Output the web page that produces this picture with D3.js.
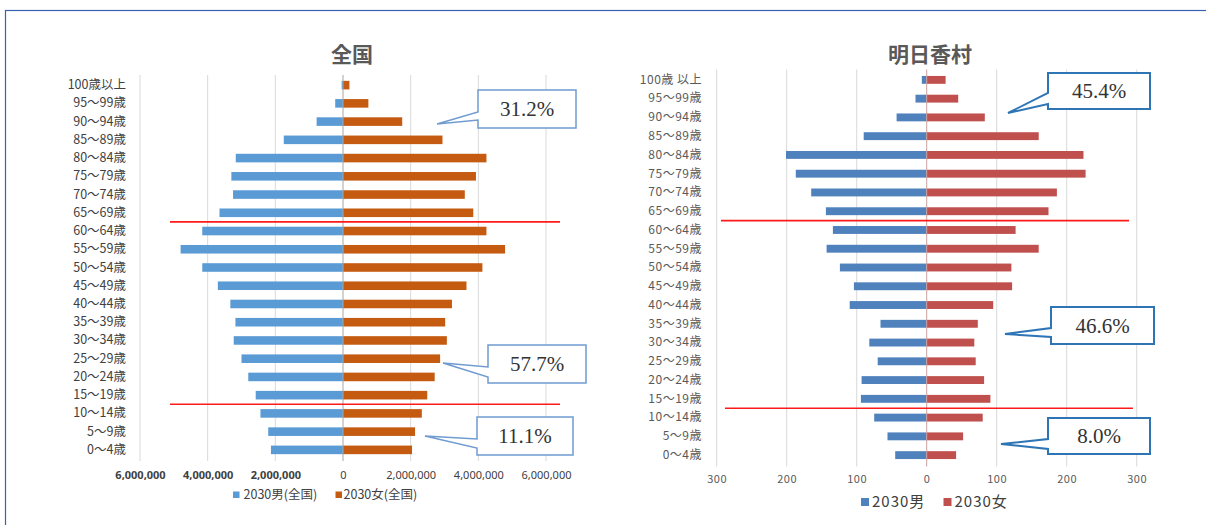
<!DOCTYPE html>
<html>
<head>
<meta charset="utf-8">
<script src="https://cdn.jsdelivr.net/npm/d3@7"></script>
<style>
  body { margin: 0; background: #fff; }
  svg { display: block; font-family: "Noto Sans CJK JP", "Noto Sans", sans-serif; }
</style>
</head>
<body>
<svg id="chart" width="1206" height="525"></svg>
<script>
// Age groups, youngest first
const agesJapan = ["0～4歳","5～9歳","10～14歳","15～19歳","20～24歳","25～29歳","30～34歳",
  "35～39歳","40～44歳","45～49歳","50～54歳","55～59歳","60～64歳","65～69歳","70～74歳",
  "75～79歳","80～84歳","85～89歳","90～94歳","95～99歳","100歳以上"];
const agesAsuka = ["0～4歳","5～9歳","10～14歳","15～19歳","20～24歳","25～29歳","30～34歳",
  "35～39歳","40～44歳","45～49歳","50～54歳","55～59歳","60～64歳","65～69歳","70～74歳",
  "75～79歳","80～84歳","85～89歳","90～94歳","95～99歳","100歳 以上"];

// 2030 projected population, nationwide (persons)
const japanMale = [2130000,2210000,2440000,2580000,2800000,3000000,3230000,3180000,3330000,3700000,
  4160000,4800000,4160000,3650000,3250000,3300000,3170000,1750000,780000,230000,40000];
const japanFemale = [2040000,2130000,2330000,2490000,2710000,2870000,3070000,3020000,3220000,3650000,
  4120000,4790000,4240000,3850000,3600000,3930000,4240000,2940000,1750000,750000,190000];

// 2030 projected population, Asuka village (persons)
const asukaMale = [45,56,75,94,93,70,82,66,110,104,124,143,134,144,165,187,201,90,43,16,7];
const asukaFemale = [42,52,80,91,82,70,68,73,95,122,121,160,127,174,186,227,224,160,83,45,27];

const japanTicks = [-6000000,-4000000,-2000000,0,2000000,4000000,6000000];
const asukaTicks = [-300,-200,-100,0,100,200,300];

// Shares of the 65+, 15–64 and 0–14 groups
const japanShares = ["31.2%","57.7%","11.1%"];
const asukaShares = ["45.4%","46.6%","8.0%"];

const svg = d3.select("#chart");

// outer frame
svg.append("rect")
  .attr("x", 5.5).attr("y", 10.5).attr("width", 1230).attr("height", 530)
  .attr("fill", "none").attr("stroke", "#3a5fad").attr("stroke-width", 1.2);

function pyramid(o) {
  const g = svg.append("g");
  const x = d3.scaleLinear().domain(o.domain).range(o.xRange);
  const y = d3.scaleBand().domain(o.ages.slice().reverse()).range(o.yRange);
  const bh = y.step() * o.barRatio;
  const off = (y.step() - bh) / 2;

  // vertical gridlines
  g.selectAll("line.grid").data(o.ticks.filter(t => t !== 0)).join("line")
    .attr("class", "grid")
    .attr("x1", d => x(d)).attr("x2", d => x(d))
    .attr("y1", o.yRange[0] - 1).attr("y2", o.yRange[1] + 2)
    .attr("stroke", "#d9d9d9").attr("stroke-width", 1);

  // male bars (left)
  g.selectAll("rect.male").data(o.male).join("rect")
    .attr("class", "male")
    .attr("x", d => x(-d)).attr("width", d => x(0) - x(-d))
    .attr("y", (d, i) => y(o.ages[i]) + off).attr("height", bh)
    .attr("fill", o.maleColor);

  // female bars (right)
  g.selectAll("rect.female").data(o.female).join("rect")
    .attr("class", "female")
    .attr("x", x(0)).attr("width", d => x(d) - x(0))
    .attr("y", (d, i) => y(o.ages[i]) + off).attr("height", bh)
    .attr("fill", o.femaleColor);

  // centre axis
  g.append("line")
    .attr("x1", x(0)).attr("x2", x(0))
    .attr("y1", o.yRange[0] - 1).attr("y2", o.yRange[1] + 2)
    .attr("stroke", o.zeroColor).attr("stroke-width", 1);

  // value axis labels
  const xa = g.append("g")
    .attr("transform", `translate(0,${o.tickY})`)
    .call(d3.axisBottom(x).tickValues(o.ticks).tickSize(0).tickPadding(0)
      .tickFormat(d => d3.format(",")(Math.abs(d))));
  xa.select(".domain").remove();
  xa.selectAll("text")
    .attr("dy", 0)
    .attr("font-family", o.tickFont)
    .attr("font-size", o.tickSize)
    .attr("letter-spacing", o.tickSpacing)
    .attr("font-weight", d => (o.boldNegative && d < 0) ? "bold" : "normal")
    .attr("fill", o.tickColor);

  // age labels
  const ya = g.append("g")
    .attr("transform", `translate(${o.labelX},0)`)
    .call(d3.axisLeft(y).tickSize(0).tickPadding(0));
  ya.select(".domain").remove();
  ya.selectAll("text")
    .attr("font-family", "'Noto Sans CJK JP', sans-serif")
    .attr("font-size", o.labelSize)
    .attr("letter-spacing", o.labelSpacing)
    .attr("fill", o.labelColor);

  // red dividers: 65+ / 15–64 / 0–14
  o.dividers.forEach((dv, i) => {
    g.append("line")
      .attr("x1", dv.x1).attr("x2", dv.x2)
      .attr("y1", y(dv.below)).attr("y2", y(dv.below))
      .attr("stroke", "#ff1a1a").attr("stroke-width", 1.6);
  });

  // title
  g.append("text")
    .attr("x", o.titleX).attr("y", 62)
    .attr("text-anchor", "middle")
    .attr("font-size", 21).attr("font-weight", "bold")
    .attr("fill", "#595959")
    .text(o.title);

  // legend
  o.legend.forEach(l => {
    g.append("rect").attr("x", l.x).attr("y", l.y - l.sq + 1).attr("width", l.sq).attr("height", l.sq)
      .attr("fill", l.color);
    g.append("text").attr("x", l.x + l.sq + l.gap).attr("y", l.y + 2)
      .attr("font-size", l.size).attr("letter-spacing", l.spacing)
      .attr("fill", "#404040").text(l.text);
  });

  // callouts
  o.callouts.forEach(c => {
    const [bx, by, bw, bh2] = c.box;
    const p = `M${bx},${by} H${bx + bw} V${by + bh2} H${bx} V${c.base[1]} L${c.tip[0]},${c.tip[1]} L${bx},${c.base[0]} Z`;
    g.append("path").attr("d", p)
      .attr("fill", "#fff").attr("stroke", o.calloutStroke).attr("stroke-width", o.calloutWidth)
      .attr("stroke-linejoin", "miter");
    g.append("text")
      .attr("x", bx + bw / 2).attr("y", by + bh2 / 2 + 7)
      .attr("text-anchor", "middle")
      .attr("font-family", "'Liberation Serif', 'DejaVu Serif', serif")
      .attr("font-size", 21).attr("fill", "#333")
      .text(c.text);
  });
}

pyramid({
  title: "全国", titleX: 352,
  ages: agesJapan, male: japanMale, female: japanFemale,
  domain: [-6000000, 6000000], xRange: [140, 546], yRange: [76, 459], barRatio: 0.47,
  ticks: japanTicks, tickY: 479, tickSize: 11, tickSpacing: 0, tickColor: "#404040",
  tickFont: "'Noto Sans', sans-serif", boldNegative: true,
  labelX: 126, labelSize: 12.5, labelSpacing: 0, labelColor: "#404040",
  maleColor: "#5b9bd5", femaleColor: "#c55a11", zeroColor: "#a6a6a6",
  dividers: [{below: "60～64歳", x1: 170, x2: 560}, {below: "10～14歳", x1: 170, x2: 560}],
  legend: [
    {x: 233, y: 497, sq: 6.5, gap: 4, size: 12.5, spacing: 0, color: "#5b9bd5", text: "2030男(全国)"},
    {x: 335.5, y: 497, sq: 6.5, gap: 1.5, size: 12.5, spacing: 0, color: "#c55a11", text: "2030女(全国)"}
  ],
  calloutStroke: "#6f9bd1", calloutWidth: 1.5,
  callouts: [
    {text: japanShares[0], box: [478, 90, 98, 38], tip: [437, 124], base: [112, 120]},
    {text: japanShares[1], box: [488, 345, 98, 38], tip: [443, 363], base: [367, 377]},
    {text: japanShares[2], box: [477, 417, 96, 38], tip: [425, 436], base: [439, 448]}
  ]
});

pyramid({
  title: "明日香村", titleX: 930,
  ages: agesAsuka, male: asukaMale, female: asukaFemale,
  domain: [-300, 300], xRange: [716.7, 1136.7], yRange: [70.5, 464.5], barRatio: 0.42,
  ticks: asukaTicks, tickY: 483, tickSize: 11, tickSpacing: 0.6, tickColor: "#595959",
  tickFont: "'Noto Sans CJK JP', sans-serif", boldNegative: false,
  labelX: 702, labelSize: 12, labelSpacing: 0.5, labelColor: "#595959",
  maleColor: "#4f81bd", femaleColor: "#c0504d", zeroColor: "#c9a0a0",
  dividers: [{below: "60～64歳", x1: 721, x2: 1129}, {below: "10～14歳", x1: 725, x2: 1133}],
  legend: [
    {x: 861, y: 505, sq: 8, gap: 3, size: 15, spacing: 1, color: "#4f81bd", text: "2030男"},
    {x: 943.5, y: 505, sq: 8, gap: 3, size: 15, spacing: 1, color: "#c0504d", text: "2030女"}
  ],
  calloutStroke: "#2e75b6", calloutWidth: 2,
  callouts: [
    {text: asukaShares[0], box: [1048, 73, 102, 36], tip: [1008, 113], base: [93, 104]},
    {text: asukaShares[1], box: [1051, 307, 103, 37], tip: [1005, 334], base: [328, 337]},
    {text: asukaShares[2], box: [1048, 418, 102, 36], tip: [1001, 444], base: [439, 449]}
  ]
});
</script>
</body>
</html>
